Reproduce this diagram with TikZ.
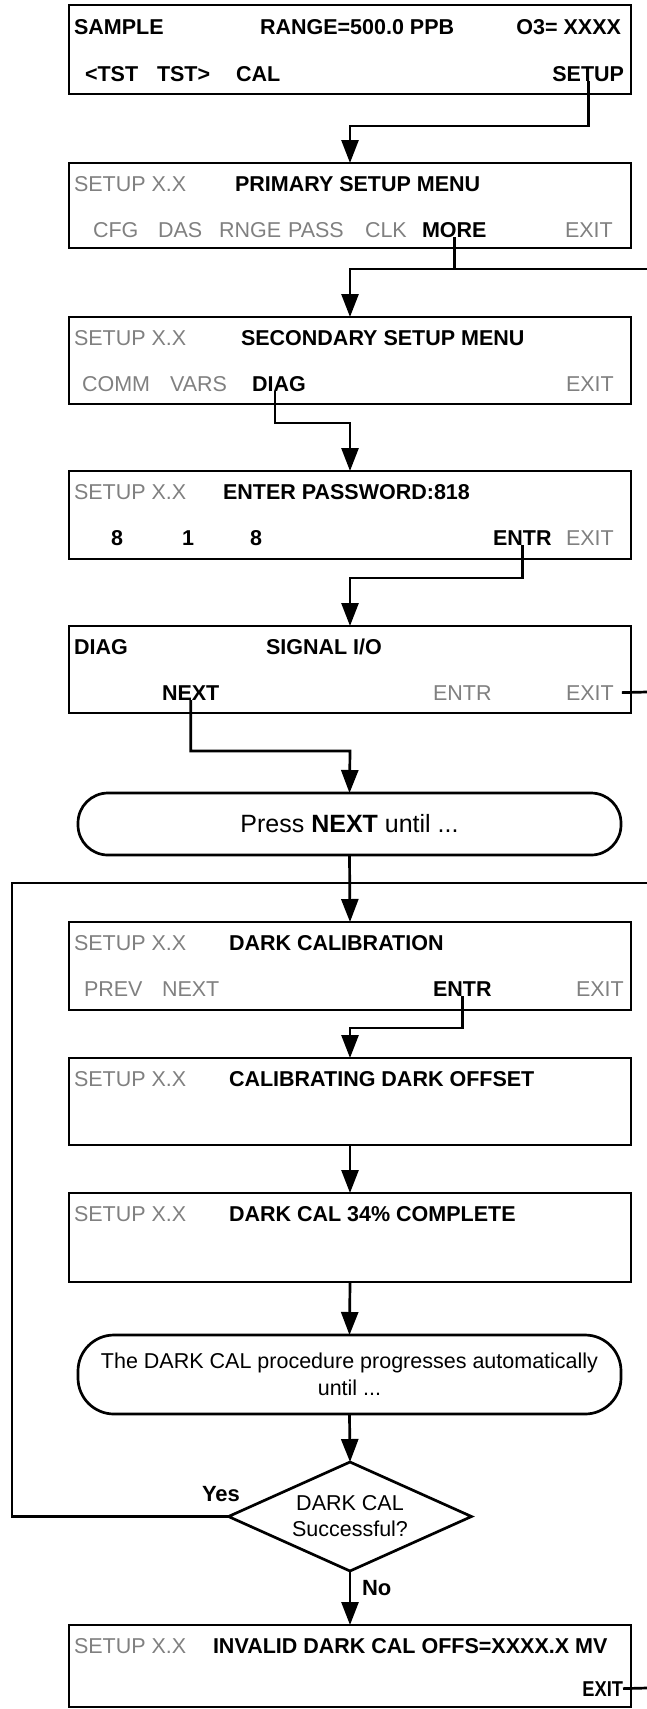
\documentclass[tikz,border=0pt]{standalone}
\usepackage{fontspec}
\usepackage{graphicx}
\setmainfont{Liberation Sans}
\usetikzlibrary{arrows.meta,shapes.geometric}
\definecolor{gtxt}{RGB}{128,128,128}
\begin{document}
\begin{tikzpicture}[x=1pt,y=-1pt,
  panel/.style={draw,line width=2.7pt,minimum width=562pt,minimum height=87pt,inner sep=0pt,outer sep=0pt,anchor=north west},
  txt/.style={inner sep=0pt,outer sep=0pt,anchor=base west,font=\fontsize{21.5}{26}\selectfont},
  txtb/.style={txt,font=\fontsize{21.5}{26}\selectfont\bfseries},
  txtg/.style={txt,text=gtxt},
  ln/.style={line width=2.7pt},
  arr/.style={ln,-{Triangle[length=23pt,width=17pt]}},
  stad/.style={draw,line width=2.7pt,rounded corners=30pt,inner sep=0pt,outer sep=0pt,minimum width=543pt,align=center}
]
\useasboundingbox (0,0) rectangle (647,1709);

% ---------- Box 1
\node[panel,minimum height=89pt] (b1) at (69,5) {};
\node[txtb] (s1a) at (74,34) {SAMPLE};
\node[txtb] (s1b) at (260,34) {RANGE=500.0 PPB};
\node[txtb,anchor=base east] (s1c) at (621,34) {O3= XXXX};
\node[txtb] (s1d) at (85,81) {<TST};
\node[txtb] (s1e) at (157,81) {TST>};
\node[txtb] (s1f) at (236,81) {CAL};
\node[txtb,anchor=base east] (setup1) at (624,81) {SETUP};

% ---------- Box 2
\node[panel,minimum height=85pt] (b2) at (69,163) {};
\node[txtg] (s2a) at (74,191) {SETUP X.X};
\node[txtb] (s2b) at (235,191) {PRIMARY SETUP MENU};
\node[txtg] (s2c) at (93,237) {CFG};
\node[txtg] (s2d) at (158,237) {DAS};
\node[txtg] (s2e) at (219,237) {RNGE};
\node[txtg] (s2f) at (288,237) {PASS};
\node[txtg] (s2g) at (365,237) {CLK};
\node[txtb] (more2) at (422,237) {MORE};
\node[txtg] (s2h) at (565,237) {EXIT};

% ---------- Box 3
\node[panel,minimum height=87pt] (b3) at (69,317) {};
\node[txtg] (s3a) at (74,345) {SETUP X.X};
\node[txtb] (s3b) at (241,345) {SECONDARY SETUP MENU};
\node[txtg] (s3c) at (82,391) {COMM};
\node[txtg] (s3d) at (170,391) {VARS};
\node[txtb] (diag3) at (252,391) {DIAG};
\node[txtg] (s3e) at (566,391) {EXIT};

% ---------- Box 4
\node[panel,minimum height=88pt] (b4) at (69,471) {};
\node[txtg] (s4a) at (74,499) {SETUP X.X};
\node[txtb] (s4b) at (223,499) {ENTER PASSWORD:818};
\node[txtb] (s4c) at (111,545) {8};
\node[txtb] (s4d) at (182,545) {1};
\node[txtb] (s4e) at (250,545) {8};
\node[txtb] (entr4) at (493,545) {ENTR};
\node[txtg] (s4f) at (566,545) {EXIT};

% ---------- Box 5
\node[panel,minimum height=87pt] (b5) at (69,626) {};
\node[txtb] (s5a) at (74,654) {DIAG};
\node[txtb] (s5b) at (266,654) {SIGNAL I/O};
\node[txtb] (next5) at (162,700) {NEXT};
\node[txtg] (s5c) at (433,700) {ENTR};
\node[txtg] (exit5) at (566,700) {EXIT};

% ---------- Stadium 1
\node[stad,minimum height=62pt,font=\fontsize{25}{30}\selectfont] (st1) at (349.5,824) {Press \textbf{NEXT} until ...};

% ---------- Box 6
\node[panel,minimum height=88pt] (b6) at (69,922) {};
\node[txtg] (s6a) at (74,950) {SETUP X.X};
\node[txtb] (s6b) at (229,950) {DARK CALIBRATION};
\node[txtg] (s6c) at (84,996) {PREV};
\node[txtg] (s6d) at (162,996) {NEXT};
\node[txtb] (entr6) at (433,996) {ENTR};
\node[txtg] (s6e) at (576,996) {EXIT};

% ---------- Box 7
\node[panel,minimum height=87pt] (b7) at (69,1058) {};
\node[txtg] (s7a) at (74,1086) {SETUP X.X};
\node[txtb] (s7b) at (229,1086) {CALIBRATING DARK OFFSET};

% ---------- Box 8
\node[panel,minimum height=89pt] (b8) at (69,1193) {};
\node[txtg] (s8a) at (74,1221) {SETUP X.X};
\node[txtb] (s8b) at (229,1221) {DARK CAL 34\% COMPLETE};

% ---------- Stadium 2
\node[stad,minimum height=79pt,rounded corners=36pt,font=\fontsize{21.5}{27}\selectfont] (st2) at (349.5,1374.5) {The DARK CAL procedure progresses automatically\\until ...};

% ---------- Diamond
\node[draw,diamond,shape aspect=2.23,line width=2.7pt,minimum width=243pt,minimum height=109pt,inner sep=0pt,outer sep=0pt,align=center,font=\fontsize{21.5}{26}\selectfont] (dia) at (350,1516.5) {DARK CAL\\Successful?};
\node[txtb,font=\fontsize{22}{26}\selectfont\bfseries] (yes) at (202,1501) {Yes};
\node[txtb,font=\fontsize{22}{26}\selectfont\bfseries] (no) at (362,1595) {No};

% ---------- Box 9
\node[panel,minimum height=82pt] (b9) at (69,1625) {};
\node[txtg] (s9a) at (74,1653) {SETUP X.X};
\node[txtb] (s9b) at (213,1653) {INVALID DARK CAL OFFS=XXXX.X MV};
\node[txtb,anchor=base east] (exit9) at (623,1696) {\scalebox{0.85}[1]{EXIT}};

% ---------- coordinates
\coordinate (k1) at (350,126);
\coordinate (k2) at (350,269);
\coordinate (out2) at (647,269);
\coordinate (k3) at (350,423);
\coordinate (k4) at (350,578);
\coordinate (out5) at (647,692);
\coordinate (k5) at (350,751);
\coordinate (lp1) at (12,883);
\coordinate (lp2) at (647,883);
\coordinate (k6) at (350,1028);
\coordinate (out9) at (647,1688);

% ---------- connectors
\draw[arr] (setup1.south) |- (k1) -- (b2.north);
\draw[arr] (more2.south) |- (k2) -- (b3.north);
\draw[ln] (more2.south |- k2) -- (out2);
\draw[arr] ([xshift=-4pt]diag3.south) |- (k3) -- (b4.north);
\draw[arr] (entr4.south) |- (k4) -- (b5.north);
\draw[ln] ([xshift=8pt]exit5.east) -- (out5);
\draw[arr] (next5.south) |- (k5) -- (st1.north);
\draw[arr] (st1.south) -- (b6.north);
\draw[ln] (dia.west) -| (lp1) -- (lp2);
\draw[arr] (entr6.south) |- (k6) -- (b7.north);
\draw[arr] (b7.south) -- (b8.north);
\draw[arr] (b8.south) -- (st2.north);
\draw[arr] (st2.south) -- (dia.north);
\draw[arr] (dia.south) -- (b9.north);
\draw[ln] (exit9.east) -- (out9);
\end{tikzpicture}
\end{document}
